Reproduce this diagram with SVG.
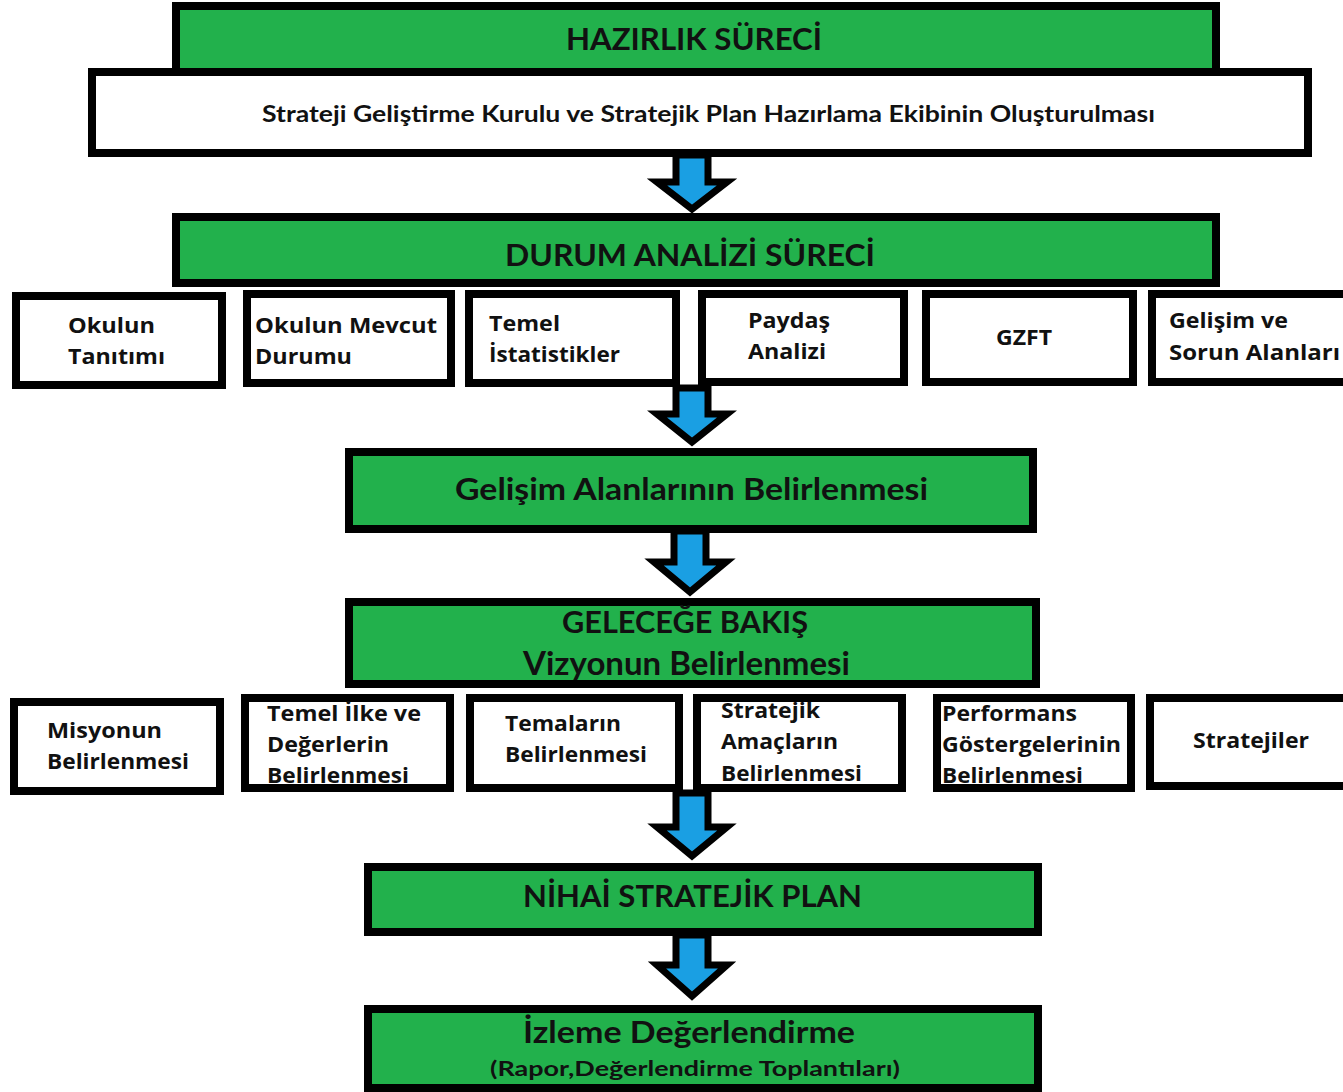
<svg xmlns="http://www.w3.org/2000/svg" width="1343" height="1092" viewBox="0 0 1343 1092">
<style>
.g{fill:#22b14c;stroke:#000;stroke-width:8}
.w{fill:#fff;stroke:#000;stroke-width:8}
.h{font-family:Lato,"Liberation Sans",sans-serif;font-weight:700;fill:#111;font-size:30px}
.s{font-family:"Open Sans","Liberation Sans",sans-serif;font-weight:700;fill:#111;font-size:22px}
.arr{fill:#1a9fe3;stroke:#000;stroke-width:7;stroke-linejoin:miter}
</style>
<rect width="1343" height="1092" fill="#fff"/>
<g id="connectors">
<polygon class="arr" points="676,155 708,155 708,182 727,182 692,209 657,182 676,182"/>
<polygon class="arr" points="676,388 708,388 708,414 727,414 692,442 657,414 676,414"/>
<polygon class="arr" points="674,531 706,531 706,562 726,562 690,592 654,562 674,562"/>
<polygon class="arr" points="676,793 708,793 708,827 727,827 692,856 657,827 676,827"/>
<polygon class="arr" points="676,935 708,935 708,965 727,965 692,996 657,965 676,965"/>
</g>
<g id="hazirlik"><rect class="g" x="176" y="6" width="1040" height="70"/>
<text class="h" x="694" y="50" text-anchor="middle" textLength="256" lengthAdjust="spacingAndGlyphs">HAZIRLIK SÜRECİ</text></g>
<g id="kurul"><rect class="w" x="92" y="72" width="1216" height="81"/>
<text class="h" style="font-size:22px" x="262" y="122" textLength="893" lengthAdjust="spacingAndGlyphs">Strateji Geliştirme Kurulu ve Stratejik Plan Hazırlama Ekibinin Oluşturulması</text></g>
<g id="durum"><rect class="g" x="176" y="217" width="1040" height="66"/>
<text class="h" x="505" y="266" textLength="370" lengthAdjust="spacingAndGlyphs">DURUM ANALİZİ SÜRECİ</text></g>
<g id="tanitim"><rect class="w" x="16" y="296" width="206" height="89"/>
<text class="s" x="68" y="333" textLength="87" lengthAdjust="spacingAndGlyphs">Okulun</text>
<text class="s" x="68" y="364" textLength="97" lengthAdjust="spacingAndGlyphs">Tanıtımı</text></g>
<g id="mevcut"><rect class="w" x="247" y="294" width="204" height="89"/>
<text class="s" x="255" y="333" textLength="182" lengthAdjust="spacingAndGlyphs">Okulun Mevcut</text>
<text class="s" x="255" y="364" textLength="97" lengthAdjust="spacingAndGlyphs">Durumu</text></g>
<g id="istatistik"><rect class="w" x="469" y="294" width="207" height="89"/>
<text class="s" x="489" y="331" textLength="71" lengthAdjust="spacingAndGlyphs">Temel</text>
<text class="s" x="489" y="362" textLength="131" lengthAdjust="spacingAndGlyphs">İstatistikler</text></g>
<g id="paydas"><rect class="w" x="702" y="294" width="202" height="88"/>
<text class="s" x="748" y="328" textLength="82" lengthAdjust="spacingAndGlyphs">Paydaş</text>
<text class="s" x="748" y="359" textLength="78" lengthAdjust="spacingAndGlyphs">Analizi</text></g>
<g id="gzft"><rect class="w" x="926" y="294" width="207" height="88"/>
<text class="s" x="996" y="345" textLength="56" lengthAdjust="spacingAndGlyphs">GZFT</text></g>
<g id="sorun"><rect class="w" x="1152" y="294" width="200" height="88"/>
<text class="s" x="1169" y="328" textLength="119" lengthAdjust="spacingAndGlyphs">Gelişim ve</text>
<text class="s" x="1169" y="360" textLength="171" lengthAdjust="spacingAndGlyphs">Sorun Alanları</text></g>
<g id="gelisim"><rect class="g" x="349" y="452" width="684" height="77"/>
<text class="h" x="455" y="500" textLength="473" lengthAdjust="spacingAndGlyphs">Gelişim Alanlarının Belirlenmesi</text></g>
<g id="gelecek"><rect class="g" x="349" y="602" width="687" height="82"/>
<text class="h" x="562" y="633" textLength="246" lengthAdjust="spacingAndGlyphs">GELECEĞE BAKIŞ</text>
<text class="h" style="font-size:32px" x="523" y="675" textLength="327" lengthAdjust="spacingAndGlyphs">Vizyonun Belirlenmesi</text></g>
<g id="misyon"><rect class="w" x="14" y="702" width="206" height="89"/>
<text class="s" x="47" y="738" textLength="115" lengthAdjust="spacingAndGlyphs">Misyonun</text>
<text class="s" x="47" y="769" textLength="142" lengthAdjust="spacingAndGlyphs">Belirlenmesi</text></g>
<g id="ilke"><rect class="w" x="245" y="698" width="205" height="90"/>
<text class="s" x="267" y="721" textLength="154" lengthAdjust="spacingAndGlyphs">Temel İlke ve</text>
<text class="s" x="267" y="752" textLength="122" lengthAdjust="spacingAndGlyphs">Değerlerin</text>
<text class="s" x="267" y="783" textLength="142" lengthAdjust="spacingAndGlyphs">Belirlenmesi</text></g>
<g id="tema"><rect class="w" x="470" y="698" width="209" height="90"/>
<text class="s" x="505" y="731" textLength="116" lengthAdjust="spacingAndGlyphs">Temaların</text>
<text class="s" x="505" y="762" textLength="142" lengthAdjust="spacingAndGlyphs">Belirlenmesi</text></g>
<g id="amac"><rect class="w" x="697" y="698" width="205" height="90"/>
<text class="s" x="721" y="718" textLength="99" lengthAdjust="spacingAndGlyphs">Stratejik</text>
<text class="s" x="721" y="749" textLength="117" lengthAdjust="spacingAndGlyphs">Amaçların</text>
<text class="s" x="721" y="781" textLength="141" lengthAdjust="spacingAndGlyphs">Belirlenmesi</text></g>
<g id="performans"><rect class="w" x="937" y="698" width="194" height="90"/>
<text class="s" x="942" y="721" textLength="135" lengthAdjust="spacingAndGlyphs">Performans</text>
<text class="s" x="942" y="752" textLength="179" lengthAdjust="spacingAndGlyphs">Göstergelerinin</text>
<text class="s" x="942" y="783" textLength="141" lengthAdjust="spacingAndGlyphs">Belirlenmesi</text></g>
<g id="stratejiler"><rect class="w" x="1150" y="698" width="200" height="88"/>
<text class="s" x="1193" y="748" textLength="116" lengthAdjust="spacingAndGlyphs">Stratejiler</text></g>
<g id="nihai"><rect class="g" x="368" y="867" width="670" height="65"/>
<text class="h" x="523" y="907" textLength="339" lengthAdjust="spacingAndGlyphs">NİHAİ STRATEJİK PLAN</text></g>
<g id="izleme"><rect class="g" x="368" y="1009" width="670" height="79"/>
<text class="h" x="523" y="1043" textLength="332" lengthAdjust="spacingAndGlyphs">İzleme Değerlendirme</text>
<text class="h" style="font-size:20px" x="490" y="1076" textLength="410" lengthAdjust="spacingAndGlyphs">(Rapor,Değerlendirme Toplantıları)</text></g>
</svg>
